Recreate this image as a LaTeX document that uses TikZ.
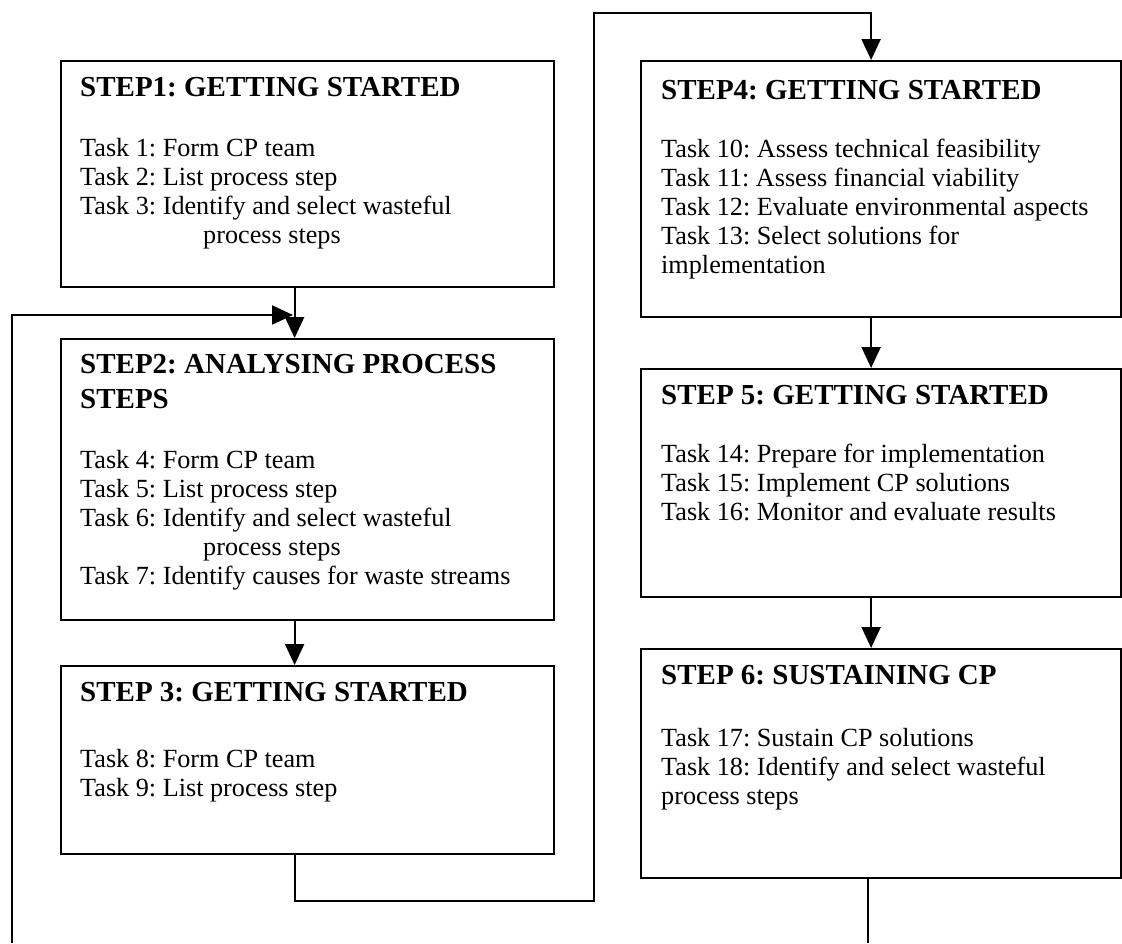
\documentclass[tikz,border=0pt]{standalone}
\usepackage{fontspec}
\setmainfont{Liberation Serif}
\usepackage{tikz}
\usetikzlibrary{positioning}
\usetikzlibrary{arrows.meta}

\tikzset{
  stepbox/.style={draw, line width=2.2pt, rectangle, inner sep=0pt, anchor=north west},
  steptext/.style={align=left, inner sep=0pt, anchor=north west,
    font=\frenchspacing\fontsize{26.2}{29}\selectfont},
  link/.style={line width=2.2pt},
  arr/.style={link, -{Triangle[length=21pt, width=19pt]}}
}
\newcommand{\steptitle}[1]{{\bfseries\fontsize{29}{35}\selectfont #1}}

\begin{document}
\begin{tikzpicture}[x=1pt, y=-1pt]
\useasboundingbox (0,0) rectangle (1122,943);

% left column
\node[stepbox, minimum width=493pt, minimum height=226pt] (s1) at (60,60) {};
\node[steptext, below right=17pt and 20pt of s1.north west] (t1)
  {\steptitle{STEP1: GETTING STARTED}\\[31pt]
   Task 1: Form CP team\\
   Task 2: List process step\\
   Task 3: Identify and select wasteful\\
   \hspace*{123pt}process steps};

\node[stepbox, minimum width=493pt, minimum height=281pt] (s2) at (60,338) {};
\node[steptext, below right=16pt and 20pt of s2.north west] (t2)
  {\steptitle{STEP2: ANALYSING PROCESS}\\[6pt]
   \steptitle{STEPS}\\[31pt]
   Task 4: Form CP team\\
   Task 5: List process step\\
   Task 6: Identify and select wasteful\\
   \hspace*{123pt}process steps\\
   Task 7: Identify causes for waste streams};

\node[stepbox, minimum width=493pt, minimum height=188pt] (s3) at (60,665) {};
\node[steptext, below right=17pt and 20pt of s3.north west] (t3)
  {\steptitle{STEP 3: GETTING STARTED}\\[37pt]
   Task 8: Form CP team\\
   Task 9: List process step};

% right column
\node[stepbox, minimum width=480pt, minimum height=256pt] (s4) at (640,60) {};
\node[steptext, below right=20pt and 21pt of s4.north west] (t4)
  {\steptitle{STEP4: GETTING STARTED}\\[29pt]
   Task 10: Assess technical feasibility\\
   Task 11: Assess financial viability\\
   Task 12: Evaluate environmental aspects\\
   Task 13: Select solutions for\\
   implementation};

\node[stepbox, minimum width=480pt, minimum height=228pt] (s5) at (640,368) {};
\node[steptext, below right=17pt and 21pt of s5.north west] (t5)
  {\steptitle{STEP 5: GETTING STARTED}\\[29pt]
   Task 14: Prepare for implementation\\
   Task 15: Implement CP solutions\\
   Task 16: Monitor and evaluate results};

\node[stepbox, minimum width=480pt, minimum height=229pt] (s6) at (640,648) {};
\node[steptext, below right=17pt and 21pt of s6.north west] (t6)
  {\steptitle{STEP 6: SUSTAINING CP}\\[33pt]
   Task 17: Sustain CP solutions\\
   Task 18: Identify and select wasteful\\
   process steps};

% connectors
\coordinate (fbin) at (12,943);
\coordinate (fbtip) at (293,315);
\coordinate (top) at (594,13);
\coordinate (out) at (868,943);

\draw[arr] ([xshift=-13pt]s1.south) -- ([xshift=-13pt]s2.north);
\draw[arr] ([xshift=-13pt]s2.south) -- ([xshift=-13pt]s3.north);
\draw[arr] (fbin) |- (fbtip);
\draw[arr] ([xshift=-13pt]s3.south) -- ++(0,46) -| (top) -| ([xshift=-10pt]s4.north);
\draw[arr] ([xshift=-10pt]s4.south) -- ([xshift=-10pt]s5.north);
\draw[arr] ([xshift=-10pt]s5.south) -- ([xshift=-10pt]s6.north);
\draw[link] (out |- s6.south) -- (out);
\end{tikzpicture}
\end{document}
